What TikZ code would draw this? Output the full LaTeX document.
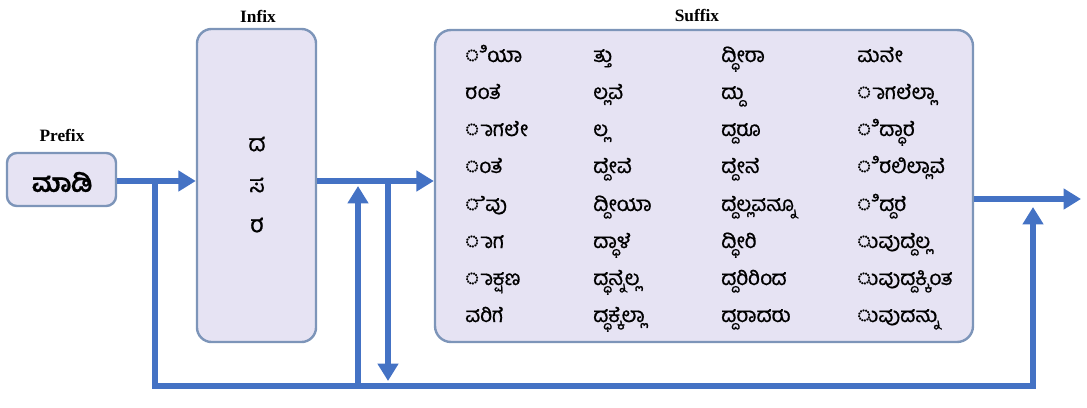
\documentclass[tikz,border=0pt]{standalone}
\usepackage{fontspec}
\setmainfont{Liberation Serif}
\newfontfamily\kanfont[Script=Kannada,FakeBold=0.7]{Hind Mysuru}
\usetikzlibrary{arrows.meta}

\definecolor{boxfill}{HTML}{E6E3F3}
\definecolor{boxline}{HTML}{7D95B9}
\definecolor{flowblue}{HTML}{4472C4}

\tikzset{
  box/.style={draw=boxline, fill=boxfill, line width=1.8pt, inner sep=0pt},
  flow/.style={draw=flowblue, line width=3.8pt, -{Triangle[width=15pt,length=13pt]}},
  flowline/.style={draw=flowblue, line width=3.8pt},
  title/.style={font=\bfseries\fontsize{13}{15}\selectfont},
  kan/.style={font=\kanfont\fontsize{15.5}{18}\selectfont, anchor=base west, inner sep=0pt},
  kanmid/.style={font=\kanfont\fontsize{17.5}{19}\selectfont, inner sep=0pt},
}

\begin{document}
\begin{tikzpicture}[x=0.75pt, y=-0.75pt]

    \useasboundingbox (0,0) rectangle (1087,407);

    \node [box, rounded corners=7.5pt, minimum width=81.8pt, minimum height=39.8pt] (prefix) at (61.5,179.5) {};
    \node [kanmid, font=\kanfont\bfseries\fontsize{19}{21}\selectfont] (madi) at (62,182) {ಮಾಡಿ};
    \node [title] (prefixlbl) at (62,135) {Prefix};

    \node [box, rounded corners=11pt, minimum width=89.3pt, minimum height=234.8pt] (infix) at (256.5,185.5) {};
    \node [title] (infixlbl) at (258,16) {Infix};
    \node [kanmid] (in1) at (257,144) {ದ};
    \node [kanmid] (in2) at (257,185) {ಸ};
    \node [kanmid] (in3) at (257,225) {ರ};

    \node [box, rounded corners=12pt, minimum width=403.5pt, minimum height=234pt] (suffix) at (704,186) {};
    \node [title] (suffixlbl) at (697,16) {Suffix};

    % first column
    \node [kan] (s11) at (465,62) {◌ಿಯಾ};
    \node [kan] (s12) at (465,99) {ರಂತೆ};
    \node [kan] (s13) at (465,136) {◌ಾಗಲೇ};
    \node [kan] (s14) at (465,173) {◌ಂತೆ};
    \node [kan] (s15) at (465,211) {◌ೆವು};
    \node [kan] (s16) at (465,248) {◌ಾಗ};
    \node [kan] (s17) at (465,285) {◌ಾಕ್ಷಣ};
    \node [kan] (s18) at (465,322) {ವರಿಗೆ};

    % second column
    \node [kan] (s21) at (593,62) {ತ್ತು};
    \node [kan] (s22) at (593,99) {ಲ್ಲವೆ};
    \node [kan] (s23) at (593,136) {ಲ್ಲ};
    \node [kan] (s24) at (593,173) {ದ್ದೇವೆ};
    \node [kan] (s25) at (593,211) {ದ್ದೀಯಾ};
    \node [kan] (s26) at (593,248) {ದ್ಧಾಳೆ};
    \node [kan] (s27) at (593,285) {ದ್ಧನ್ನೆಲ್ಲ};
    \node [kan] (s28) at (593,322) {ದ್ಧಕ್ಕೆಲ್ಲಾ};

    % third column
    \node [kan] (s31) at (721,62) {ದ್ಧೀರಾ};
    \node [kan] (s32) at (721,99) {ದ್ದು};
    \node [kan] (s33) at (721,136) {ದ್ದರೂ};
    \node [kan] (s34) at (721,173) {ದ್ದೇನೆ};
    \node [kan] (s35) at (721,211) {ದ್ದೆಲ್ಲವನ್ನೂ};
    \node [kan] (s36) at (721,248) {ದ್ಧೀರಿ};
    \node [kan] (s37) at (721,285) {ದ್ದರಿರಿಂದ};
    \node [kan] (s38) at (721,322) {ದ್ದರಾದರು};

    % fourth column
    \node [kan] (s41) at (857,62) {ಮನೇ};
    \node [kan] (s42) at (857,99) {◌ಾಗಲೆಲ್ಲಾ};
    \node [kan] (s43) at (857,136) {◌ಿದ್ಧಾರೆ};
    \node [kan] (s44) at (857,173) {◌ಿರಲಿಲ್ಲಾವೆ};
    \node [kan] (s45) at (857,211) {◌ಿದ್ದರೆ};
    \node [kan] (s46) at (857,248) {◌ುವುದ್ದೆಲ್ಲ};
    \node [kan] (s47) at (857,285) {◌ುವುದ್ದಕ್ಕಿಂತ};
    \node [kan] (s48) at (857,322) {◌ುವುದನ್ನು};

    \coordinate (loopstart) at (155,181);
    \coordinate (loopcorner) at (1033,386);
    \coordinate (loopend) at (1033,207);
    \coordinate (upbase) at (358,384);
    \coordinate (uptip) at (358,186);
    \coordinate (downstart) at (388,181);
    \coordinate (downtip) at (388,381);
    \coordinate (outtip) at (1081,199);

    \draw [flow] (prefix.east |- loopstart) -- (infix.west |- loopstart);
    \draw [flow] (infix.east |- loopstart) -- (suffix.west |- loopstart);
    \draw [flow] (suffix.east |- outtip) -- (outtip);
    \draw [flow] (loopstart) |- (loopcorner) -- (loopend);
    \draw [flow] (upbase) -- (uptip);
    \draw [flow] (downstart) -- (downtip);

\end{tikzpicture}
\end{document}
